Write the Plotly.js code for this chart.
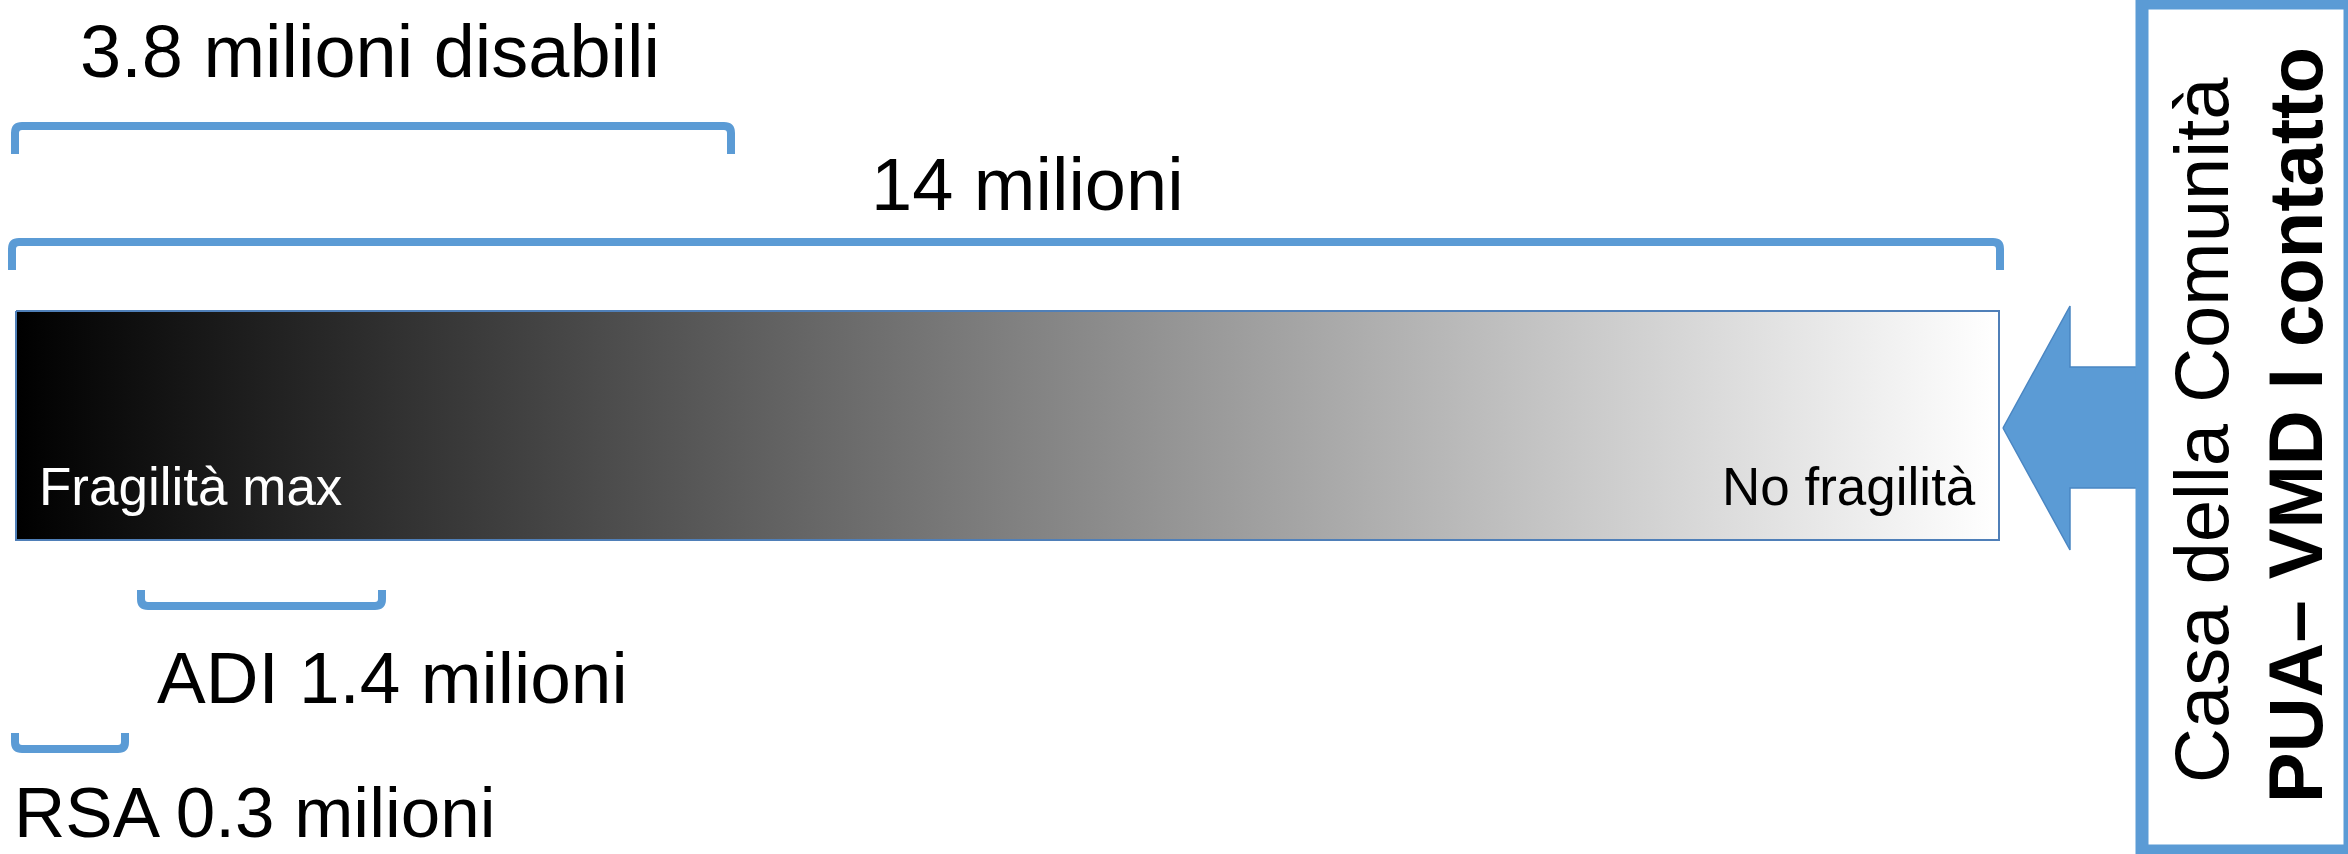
<!DOCTYPE html>
<html>
<head>
<meta charset="utf-8">
<script src="https://cdn.plot.ly/plotly-3.0.1.min.js"></script>
<style>
  html, body { margin: 0; padding: 0; background: #ffffff; overflow: hidden; }
  #chart { width: 2348px; height: 854px; }
</style>
</head>
<body>
<div id="chart"></div>
<script>
// ---------- DATA ----------
const groupValues   = [3.8, 14, 1.4, 0.3];               // millions of people
const groupPrefixes = ['', '', 'ADI ', 'RSA '];
const groupSuffixes = [' milioni disabili', ' milioni', ' milioni', ' milioni'];
const scaleLabels   = ['Fragilità max', 'No fragilità'];
const boxLabels     = ['Casa della Comunità', '<b>PUA– VMD I contatto</b>'];

// ---------- GEOMETRY / STYLE (diagram coordinates, not data) ----------
const W = 2348, H = 854;
const blue = '#5b9bd5';
const FONT = 'Liberation Sans, Arial, sans-serif';

// bracket: [x0, x1, yLine, yEnd]
const brackets = [
  [15, 731, 126, 154],
  [12, 2000, 242, 270],
  [141, 382, 606, 590],
  [15, 125, 749, 733]
];
// label anchors for the groups: [x, y, size, yanchor]
const groupLabelPos = [
  [370, 51, 74, 'middle'],
  [1027, 184, 74, 'middle'],
  [392, 677, 73, 'middle'],
  [254, 853, 71, 'bottom']
];
const bar = {x0: 16, x1: 1999, y0: 311, y1: 540};
const scaleLabelPos = [[190, 486, '#ffffff'], [1849, 486, '#000000']];
const arrow = {tip: [2003, 428], headX: 2070, headTop: 306, headBot: 550, shaftTop: 367, shaftBot: 488, end: 2140};
const box = {x0: 2142, x1: 2350, y0: 3, y1: 851};
const boxLabelPos = [[2201, 430], [2295, 425]];

function bracketPath(b) {
  const [x0, x1, yl, ye] = b;
  const r = 7 * Math.sign(ye - yl);
  return `M ${x0},${ye} L ${x0},${yl + r} Q ${x0},${yl} ${x0 + 7},${yl} ` +
         `L ${x1 - 7},${yl} Q ${x1},${yl} ${x1},${yl + r} L ${x1},${ye}`;
}

const traces = [
  {
    type: 'scatter', mode: 'lines',
    x: [bar.x0, bar.x1, bar.x1, bar.x0, bar.x0],
    y: [bar.y0, bar.y0, bar.y1, bar.y1, bar.y0],
    fill: 'toself',
    fillgradient: { type: 'horizontal', colorscale: [[0, '#000000'], [1, '#ffffff']] },
    line: { color: '#4f7fb8', width: 2 },
    hoverinfo: 'skip', showlegend: false
  },
  {
    type: 'scatter', mode: 'lines',
    x: [arrow.tip[0], arrow.headX, arrow.headX, arrow.end, arrow.end, arrow.headX, arrow.headX, arrow.tip[0]],
    y: [arrow.tip[1], arrow.headTop, arrow.shaftTop, arrow.shaftTop, arrow.shaftBot, arrow.shaftBot, arrow.headBot, arrow.tip[1]],
    fill: 'toself', fillcolor: blue,
    line: { color: '#4a86c2', width: 1.5 },
    hoverinfo: 'skip', showlegend: false
  }
];

const shapes = brackets.map(b => ({
  type: 'path', xref: 'x', yref: 'y', path: bracketPath(b),
  line: { color: blue, width: 8 }
}));
shapes.push({
  type: 'rect', xref: 'x', yref: 'y',
  x0: box.x0, x1: box.x1, y0: box.y0, y1: box.y1,
  line: { color: blue, width: 13 }, fillcolor: 'rgba(0,0,0,0)'
});

const annotations = [];
groupValues.forEach((v, i) => {
  const [x, y, fs, ya] = groupLabelPos[i];
  annotations.push({
    x, y, xref: 'x', yref: 'y', showarrow: false,
    xanchor: 'center', yanchor: ya, borderpad: 0,
    text: groupPrefixes[i] + v + groupSuffixes[i],
    font: { family: FONT, size: fs, color: '#000000' }
  });
});
scaleLabels.forEach((t, i) => {
  const [x, y, c] = scaleLabelPos[i];
  annotations.push({
    x, y, xref: 'x', yref: 'y', showarrow: false,
    xanchor: 'center', yanchor: 'middle', text: t,
    font: { family: FONT, size: 53, color: c }
  });
});
boxLabels.forEach((t, i) => {
  const [x, y] = boxLabelPos[i];
  annotations.push({
    x, y, xref: 'x', yref: 'y', showarrow: false,
    xanchor: 'center', yanchor: 'middle', textangle: -90, text: t,
    font: { family: FONT, size: 76, color: '#000000' }
  });
});

const layout = {
  width: W, height: H,
  margin: { l: 0, r: 0, t: 0, b: 0, pad: 0 },
  paper_bgcolor: '#ffffff', plot_bgcolor: '#ffffff',
  xaxis: { range: [0, W], visible: false, fixedrange: true },
  yaxis: { range: [H, 0], visible: false, fixedrange: true },
  shapes, annotations, showlegend: false
};

Plotly.newPlot('chart', traces, layout, { displayModeBar: false, staticPlot: true });
</script>
</body>
</html>
